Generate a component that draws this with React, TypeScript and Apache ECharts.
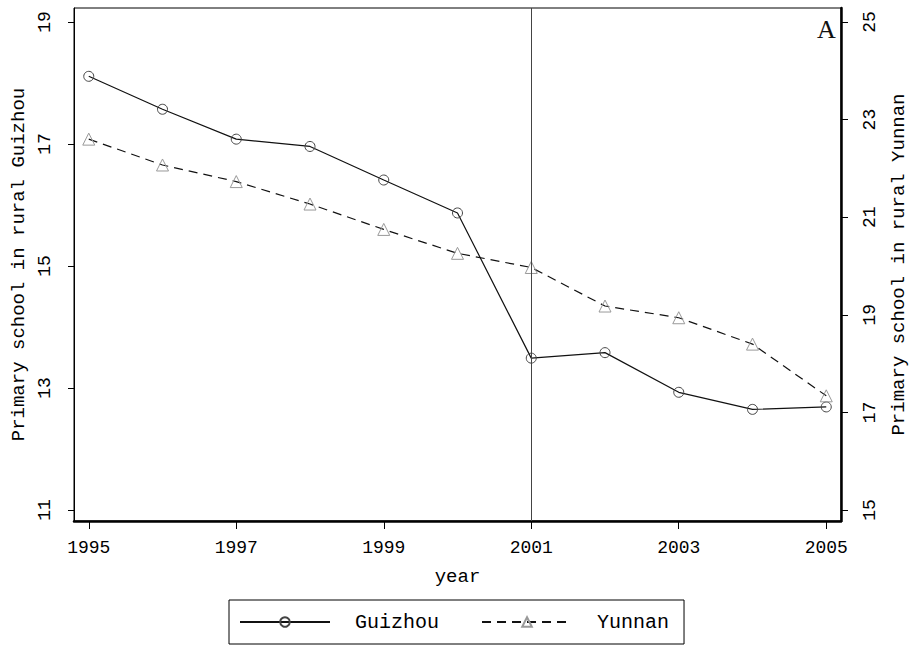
import React, { useEffect, useRef } from "react";
import * as echarts from "echarts";

const years = [1995, 1996, 1997, 1998, 1999, 2000, 2001, 2002, 2003, 2004, 2005];
const guizhou = [18.11, 17.57, 17.08, 16.96, 16.41, 15.87, 13.49, 13.58, 12.93, 12.65, 12.69];
const yunnan = [22.6, 22.07, 21.73, 21.27, 20.75, 20.26, 19.97, 19.18, 18.94, 18.4, 17.34];
const xTicks = [1995, 1997, 1999, 2001, 2003, 2005];
const leftTicks = [11, 13, 15, 17, 19];
const rightTicks = [15, 17, 19, 21, 23, 25];
const policyYear = 2001;

const MONO = "'Liberation Mono', 'DejaVu Sans Mono', monospace";

export default function App() {
  const ref = useRef<HTMLDivElement>(null);
  useEffect(() => {
    if (!ref.current) return;
    const chart = echarts.init(ref.current, null, { renderer: "svg" });
    const labelStyle = { fontFamily: MONO, fontSize: 18, color: "#000" };
    chart.setOption({
      animation: false,
      backgroundColor: "#fff",
      grid: {
        left: 74,
        right: 68,
        top: 8,
        bottom: 129,
        show: true,
        borderColor: "#000",
        borderWidth: 1,
        outerBoundsMode: "none",
      },
      xAxis: {
        type: "value",
        min: 1994.8,
        max: 2005.2,
        name: "year",
        nameLocation: "middle",
        nameGap: 46,
        nameTextStyle: { fontFamily: MONO, fontSize: 19, color: "#000" },
        axisLine: { onZero: false, lineStyle: { color: "#000", width: 2.5 } },
        axisTick: { customValues: xTicks, length: 8, lineStyle: { color: "#000" } },
        axisLabel: { customValues: xTicks, formatter: (v: number) => String(v), margin: 18, ...labelStyle },
        splitLine: { show: false },
      },
      yAxis: [
        {
          type: "value",
          position: "left",
          min: 10.82,
          max: 19.23,
          name: "Primary school in rural Guizhou",
          nameLocation: "middle",
          nameRotate: 90,
          nameGap: 46,
          nameTextStyle: { fontFamily: MONO, fontSize: 19, color: "#000" },
          axisLine: { show: true, onZero: false, lineStyle: { color: "#000", width: 1 } },
          axisTick: { show: true, customValues: leftTicks, length: 6, lineStyle: { color: "#000" } },
          axisLabel: { customValues: leftTicks, rotate: 90, margin: 20, formatter: (v: number) => String(v), ...labelStyle },
          splitLine: { show: false },
        },
        {
          type: "value",
          position: "right",
          min: 14.775,
          max: 25.287,
          name: "Primary school in rural Yunnan",
          nameLocation: "middle",
          nameRotate: 90,
          nameGap: 48,
          nameTextStyle: { fontFamily: MONO, fontSize: 19, color: "#000" },
          axisLine: { show: true, onZero: false, lineStyle: { color: "#000", width: 2.5 } },
          axisTick: { show: true, customValues: rightTicks, length: 7, lineStyle: { color: "#000" } },
          axisLabel: { customValues: rightTicks, rotate: 90, margin: 20, formatter: (v: number) => String(v), ...labelStyle },
          splitLine: { show: false },
        },
      ],
      legend: {
        left: 229,
        top: 600,
        orient: "horizontal",
        padding: [12, 15, 12, 10],
        borderColor: "#000",
        borderWidth: 1,
        itemWidth: 90,
        itemHeight: 12,
        itemGap: 42,
        textStyle: { fontFamily: MONO, fontSize: 20, color: "#000", padding: [0, 0, 0, 20] },
        data: ["Guizhou", "Yunnan"],
      },
      graphic: [
        {
          type: "text",
          x: 817,
          y: 16,
          style: { text: "A", font: "26px 'Liberation Serif', serif", fill: "#111" },
        },
      ],
      series: [
        {
          name: "Guizhou",
          type: "line",
          yAxisIndex: 0,
          data: years.map((y, i) => [y, guizhou[i]]),
          symbol: "circle",
          symbolSize: 10,
          itemStyle: { color: "rgba(0,0,0,0)", borderColor: "#444", borderWidth: 1 },
          lineStyle: { color: "#111", width: 1.2, type: "solid" },
          markLine: {
            silent: true,
            symbol: "none",
            label: { show: false },
            lineStyle: { color: "#444", width: 1, type: "solid" },
            data: [{ xAxis: policyYear }],
          },
        },
        {
          name: "Yunnan",
          type: "line",
          yAxisIndex: 1,
          data: years.map((y, i) => [y, yunnan[i]]),
          symbol: "triangle",
          symbolSize: 12,
          itemStyle: { color: "rgba(0,0,0,0)", borderColor: "#999", borderWidth: 1 },
          lineStyle: { color: "#111", width: 1.2, type: [9, 6] },
        },
      ],
    });
    return () => chart.dispose();
  }, []);
  return <div ref={ref} style={{ width: 909, height: 650, position: "absolute", left: 0, top: 0 }} />;
}
